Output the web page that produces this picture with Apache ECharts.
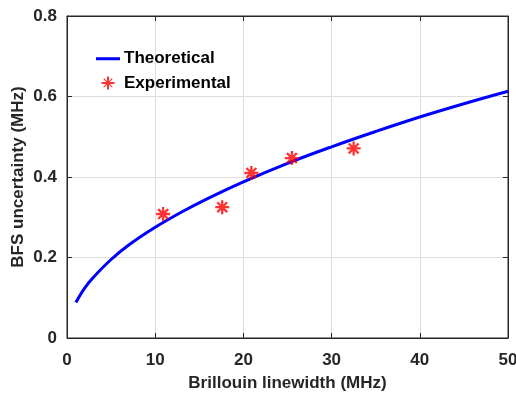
<!DOCTYPE html>
<html lang="en">

<head>
  <script src="https://cdn.jsdelivr.net/npm/echarts@6.0.0/dist/echarts.min.js"></script>
</head>

<body style="margin:0;">
  <div id="bfsChart" style="width: 516px;height:398px;"></div>

  <script type="text/javascript">

    // theoretical curve
    var theoX = [1, 2, 3, 5, 7, 10, 13, 16, 20, 25, 30, 35, 40, 45, 50];
    var theoY = [0.088, 0.124, 0.151, 0.195, 0.231, 0.275, 0.313, 0.347, 0.388, 0.434, 0.475, 0.513, 0.549, 0.582, 0.613];

    // experimental points
    var expX = [10.9, 17.6, 20.9, 25.5, 32.5];
    var expY = [0.308, 0.325, 0.41, 0.447, 0.471];

    var xTicks = [0, 10, 20, 30, 40, 50];
    var yTicks = [0, 0.2, 0.4, 0.6, 0.8];

    var asterisk = 'path://M-1,-6L1,-6L1,6L-1,6Z M-6,-1L6,-1L6,1L-6,1Z ' +
        'M-4.95,-3.54L-3.54,-4.95L4.95,3.54L3.54,4.95Z M3.54,-4.95L4.95,-3.54L-3.54,4.95L-4.95,3.54Z';

    // legend icons drawn in a 24x14 box (tiny corner specks fix the bounds)
    var corners = ' M0,0L0.01,0L0,0.01Z M24,14L23.99,14L24,13.99Z';
    var lineIcon = 'path://M0,5.5L24,5.5L24,8.5L0,8.5Z' + corners;
    var starIcon = 'path://M11,0.5L13,0.5L13,13.5L11,13.5Z M5.5,6L18.5,6L18.5,8L5.5,8Z ' +
        'M7.3,3L8.1,2.2L16.7,10.8L15.9,11.6Z M15.9,2.2L16.7,3L8.1,11.6L7.3,10.8Z' + corners;

    function pairs(xs, ys) {
        var out = [];
        for (var i = 0; i < xs.length; i++) {
            out.push([xs[i], ys[i]]);
        }
        return out;
    }

    var font = 'Liberation Sans, Arial, sans-serif';
    var axisColor = '#262626';

    function createChart() {
        const chart = echarts.init(document.getElementById("bfsChart"));

        var baseAxis = {
            axisLine: { show: true, onZero: false, lineStyle: { color: axisColor, width: 1 } },
            axisTick: { show: true, inside: true, length: 5, lineStyle: { color: axisColor } },
            splitLine: { show: false }
        };

        var option = {
            animation: false,
            backgroundColor: '#ffffff',
            grid: {
                left: 67, right: 8, top: 16, bottom: 60, containLabel: false, outerBoundsMode: 'none',
                show: true, borderColor: axisColor, borderWidth: 1, backgroundColor: 'transparent'
            },
            legend: {
                orient: 'vertical',
                left: 91,
                top: 39,
                itemGap: -5,
                itemWidth: 24,
                itemHeight: 14,
                textStyle: { fontFamily: font, fontWeight: 'bold', fontSize: 17, color: '#000', padding: [0, 0, 0, -1] },
                data: [
                    { name: 'Theoretical', icon: lineIcon, itemStyle: { color: '#0000ff' } },
                    { name: 'Experimental', icon: starIcon, itemStyle: { color: '#ff0000' } }
                ]
            },
            xAxis: [
                Object.assign({}, baseAxis, {
                    type: 'value',
                    min: xTicks[0],
                    max: xTicks[xTicks.length - 1],
                    interval: xTicks[1] - xTicks[0],
                    name: 'Brillouin linewidth (MHz)',
                    nameLocation: 'middle',
                    nameGap: 31,
                    nameMoveOverlap: false,
                    nameTextStyle: { fontFamily: font, fontWeight: 'bold', fontSize: 17, color: '#262626' },
                    axisLabel: { margin: 8, fontFamily: font, fontWeight: 'bold', fontSize: 17, color: '#262626' },
                    splitLine: { show: true, lineStyle: { color: '#dedede', width: 1 } }
                }),
                Object.assign({}, baseAxis, {
                    type: 'value', position: 'top',
                    min: xTicks[0], max: xTicks[xTicks.length - 1], interval: xTicks[1] - xTicks[0],
                    axisLabel: { show: false }
                })
            ],
            yAxis: [
                Object.assign({}, baseAxis, {
                    type: 'value',
                    min: yTicks[0],
                    max: yTicks[yTicks.length - 1],
                    interval: 0.2,
                    name: 'BFS uncertainty (MHz)',
                    nameLocation: 'middle',
                    nameGap: 34,
                    nameMoveOverlap: false,
                    nameTextStyle: { fontFamily: font, fontWeight: 'bold', fontSize: 17, color: '#262626' },
                    axisLabel: {
                        margin: 10, fontFamily: font, fontWeight: 'bold', fontSize: 17, color: '#262626',
                        formatter: function (v) { return v === 0 ? '0' : v.toFixed(1); }
                    },
                    splitLine: { show: true, lineStyle: { color: '#dedede', width: 1 } }
                }),
                Object.assign({}, baseAxis, {
                    type: 'value', position: 'right',
                    min: yTicks[0], max: yTicks[yTicks.length - 1], interval: 0.2,
                    axisLabel: { show: false }
                })
            ],
            series: [
                {
                    name: 'Theoretical',
                    type: 'line',
                    smooth: 0.4,
                    showSymbol: false,
                    symbol: 'none',
                    color: '#0000ff',
                    lineStyle: { color: '#0000ff', width: 3 },
                    data: pairs(theoX, theoY),
                    z: 3
                },
                {
                    name: 'Experimental',
                    type: 'scatter',
                    symbol: asterisk,
                    symbolSize: 14,
                    itemStyle: { color: '#ff0000' },
                    data: pairs(expX, expY),
                    z: 4
                }
            ]
        };

        chart.setOption(option);
    }
    createChart();
  </script>
</body>

</html>
